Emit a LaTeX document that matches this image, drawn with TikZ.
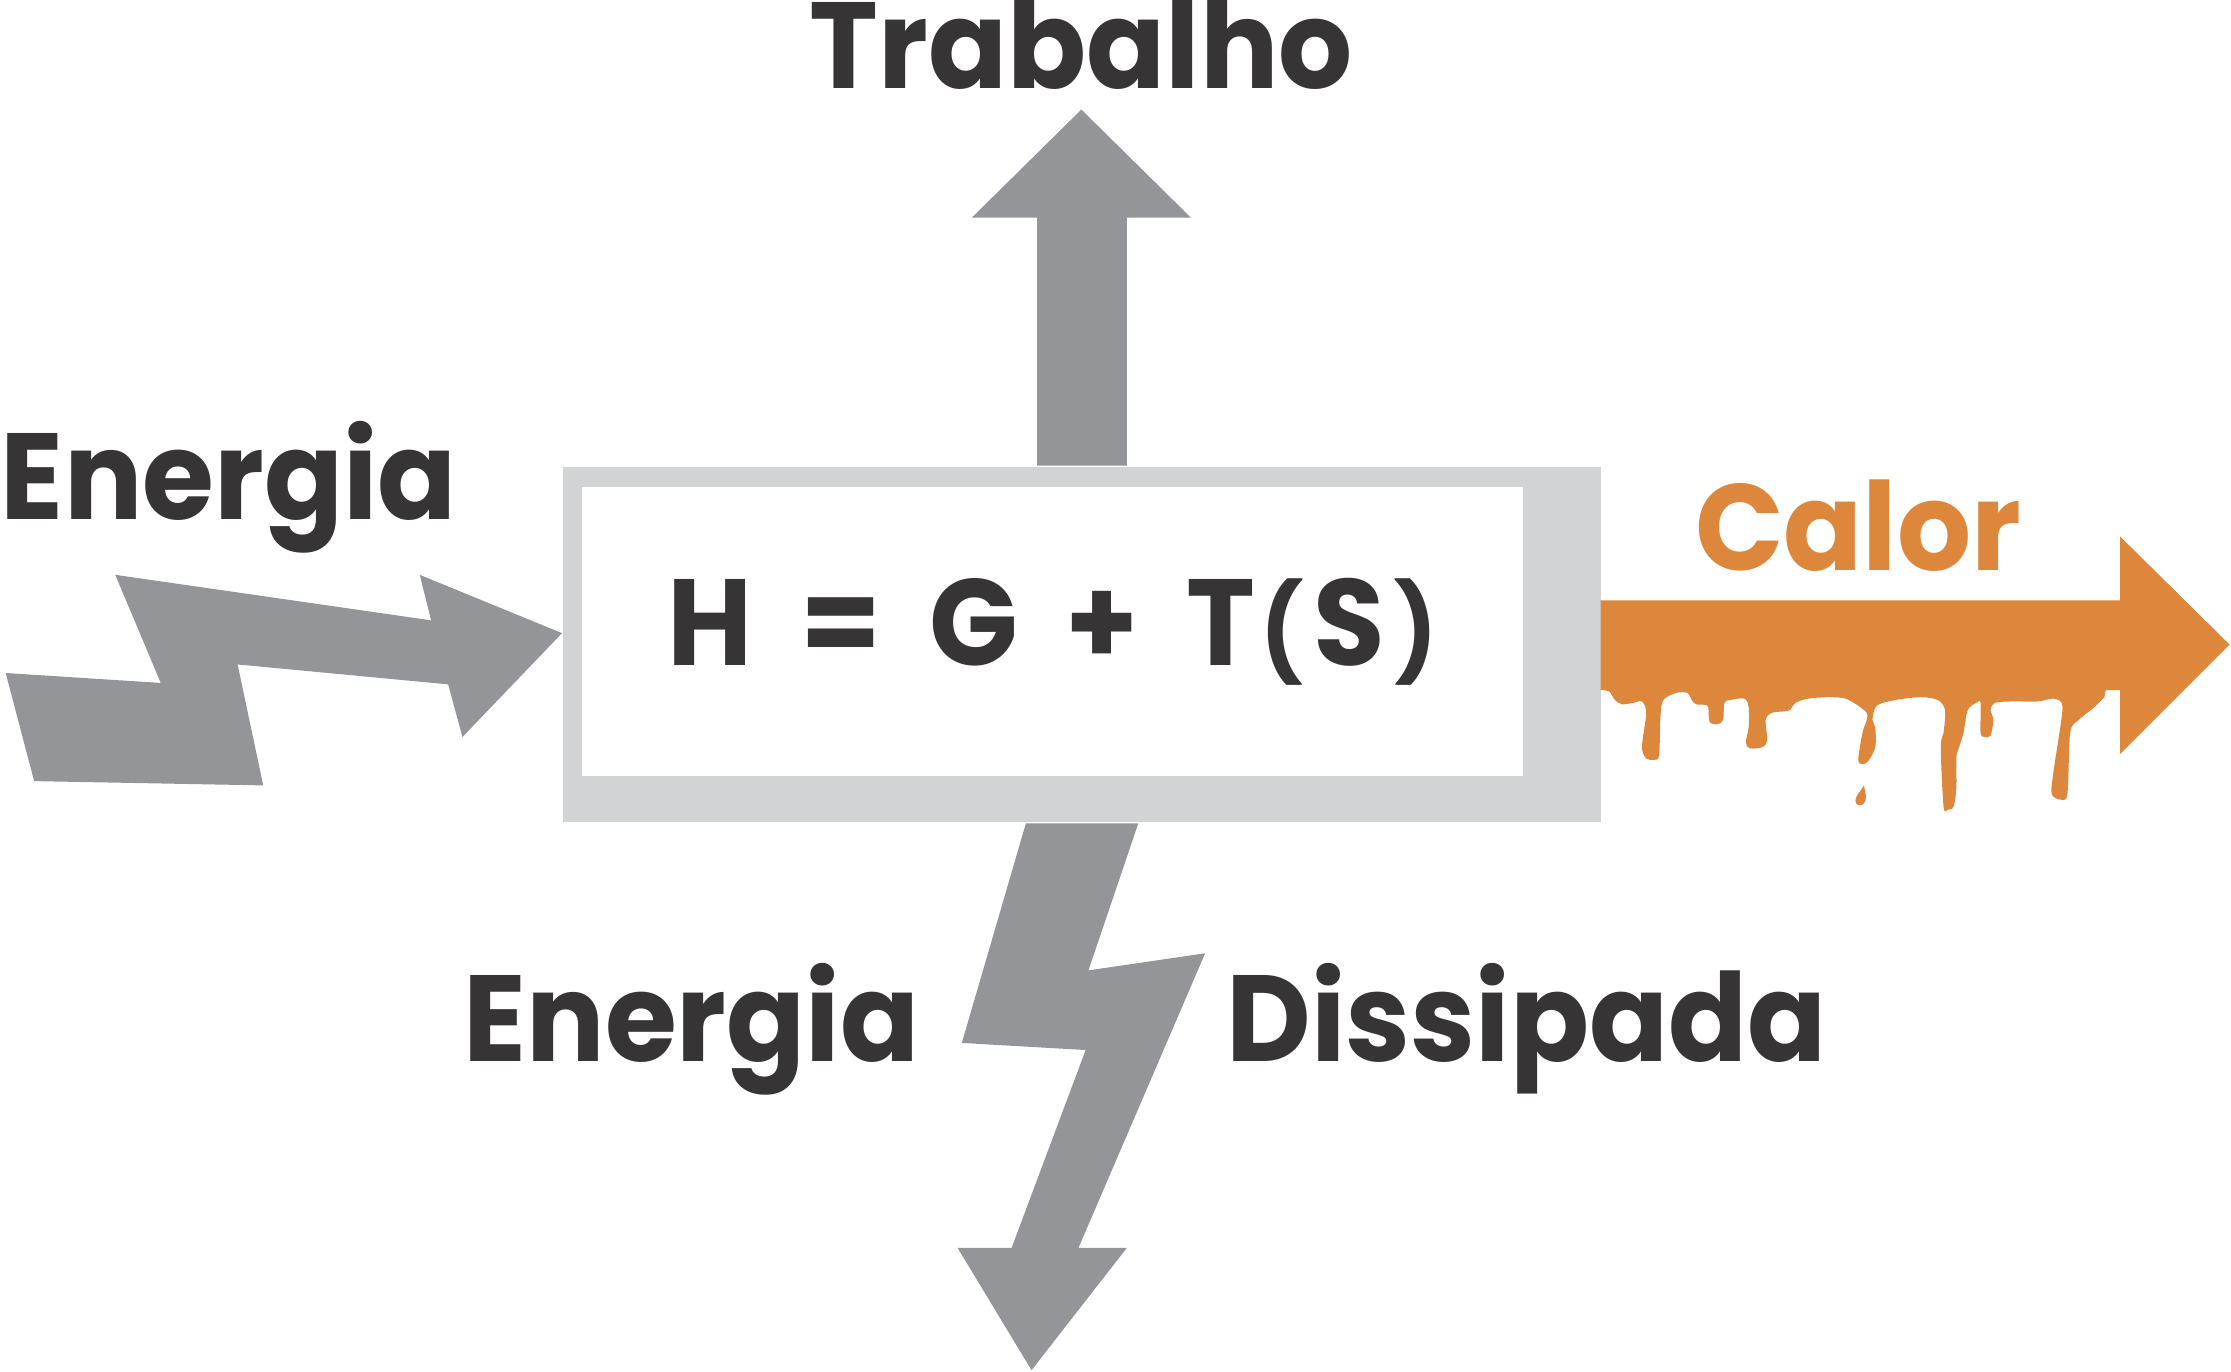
\documentclass[tikz,border=0pt]{standalone}
\usepackage{fontspec}
\setmainfont{Poppins}[FakeStretch=0.95]
\usepackage{tikz}
\usetikzlibrary{arrows,calc}
\definecolor{txtdark}{RGB}{55,52,53}
\definecolor{arrgray}{RGB}{147,149,152}
\definecolor{boxgray}{RGB}{209,211,212}
\definecolor{calor}{RGB}{221,135,60}
\newcommand{\smallpar}[1]{{\fontsize{19}{22}\selectfont#1}}
\newcommand{\eqsp}{\hspace{9.5pt}}
\tikzset{
	lbl/.style={font=\fontsize{24.5}{28}\selectfont\bfseries, text=txtdark, inner sep=0pt},
	outerbox/.style={fill=boxgray, minimum width=7.29cm, minimum height=2.5cm, inner sep=0pt},
	innerbox/.style={fill=white, minimum width=6.61cm, minimum height=2.03cm, inner sep=0pt}
}

\begin{document}
\begin{tikzpicture}[x=0.01cm, y=-0.01cm]
		\useasboundingbox (0,0) rectangle (1568,964);
		\node[outerbox] (box) at (760.5,453) {};
		\node[innerbox] (inner) at (739.5,443.5) {};
		\node[lbl, anchor=base] (eqn) at (740,468) {H\eqsp=\eqsp G\eqsp+\eqsp T\hspace{1pt}\smallpar{(}\hspace{2pt}S\hspace{2pt}\smallpar{)}};
		\node[lbl, anchor=base] (trab) at (760,62) {Trabalho};
		\node[lbl, anchor=base west] (ein) at (0,365) {Energia};
		\node[lbl, anchor=base, text=calor] (cal) at (1306,401) {Calor};
		\node[lbl, anchor=base] (ed1) at (486,746) {Energia};
		\node[lbl, anchor=base] (ed2) at (1073,746) {Dissipada};
		\fill[arrgray] ($(box.north) + (-31.5,0)$) -- (729,153) -- (683,153) -- (760,77) -- (837,153) -- (792,153) -- ($(box.north) + (31.5,0)$) -- cycle;
		\fill[arrgray] (4,473) -- (113,480) -- (81,404) -- (303,436) -- (295,404) -- (395,445) -- (325,518) -- (315,481) -- (167,467) -- (185,552) -- (24,549) -- cycle;
		\fill[arrgray] ($(box.south) + (-39.5,0)$) -- ($(box.south) + (39.5,0)$) -- (765,682) -- (847,670) -- (758,877) -- (792,877) -- (725,963) -- (673,877) -- (711,877) -- (763,738) -- (676,733) -- cycle;
		\fill[calor] (1125,422) -- (1490,422) -- (1490,377) -- (1567,453) -- (1490,530) -- (1490,485) -- (1480,485)
			-- plot[smooth, tension=0.5] coordinates {(1479,490) (1472,497) (1461,506) (1455,515) (1453,558) (1448,562) (1442,558) (1443,544) (1449,504) (1449,494) (1443,491) (1432,493) (1414,493) (1402,494) (1399,499) (1401,506) (1399,517) (1395,518) (1392,515) (1392,494) (1389,494) (1383,499) (1380,515) (1377,525) (1375,532) (1375,553) (1373,567) (1369,569) (1366,567) (1364,525) (1366,515) (1367,499) (1362,492) (1350,490) (1332,492) (1319,496) (1316,506) (1318,511) (1318,525) (1313,535) (1309,537) (1306,534) (1309,515) (1312,506) (1312,501) (1306,496) (1297,491) (1286,490) (1271,491) (1262,494) (1258,499) (1254,500) (1245,501) (1241,506) (1242,520) (1239,525) (1230,526) (1227,522) (1229,511) (1229,497) (1226,491) (1216,492) (1212,494) (1211,506) (1207,509) (1202,508) (1201,504) (1200,496) (1192,495) (1189,492) (1186,487) (1178,487) (1169,492) (1167,504) (1166,531) (1162,534) (1157,533) (1154,525) (1157,501) (1154,493) (1148,494) (1140,495) (1135,492) (1131,486) (1125,485)} -- cycle;
		\fill[calor] (1310,552) .. controls (1311,557) and (1312,560) .. (1311,563) .. controls (1310,567) and (1304,567) .. (1304,563) .. controls (1304,559) and (1308,556) .. (1310,552) -- cycle;
	\end{tikzpicture}
\end{document}
